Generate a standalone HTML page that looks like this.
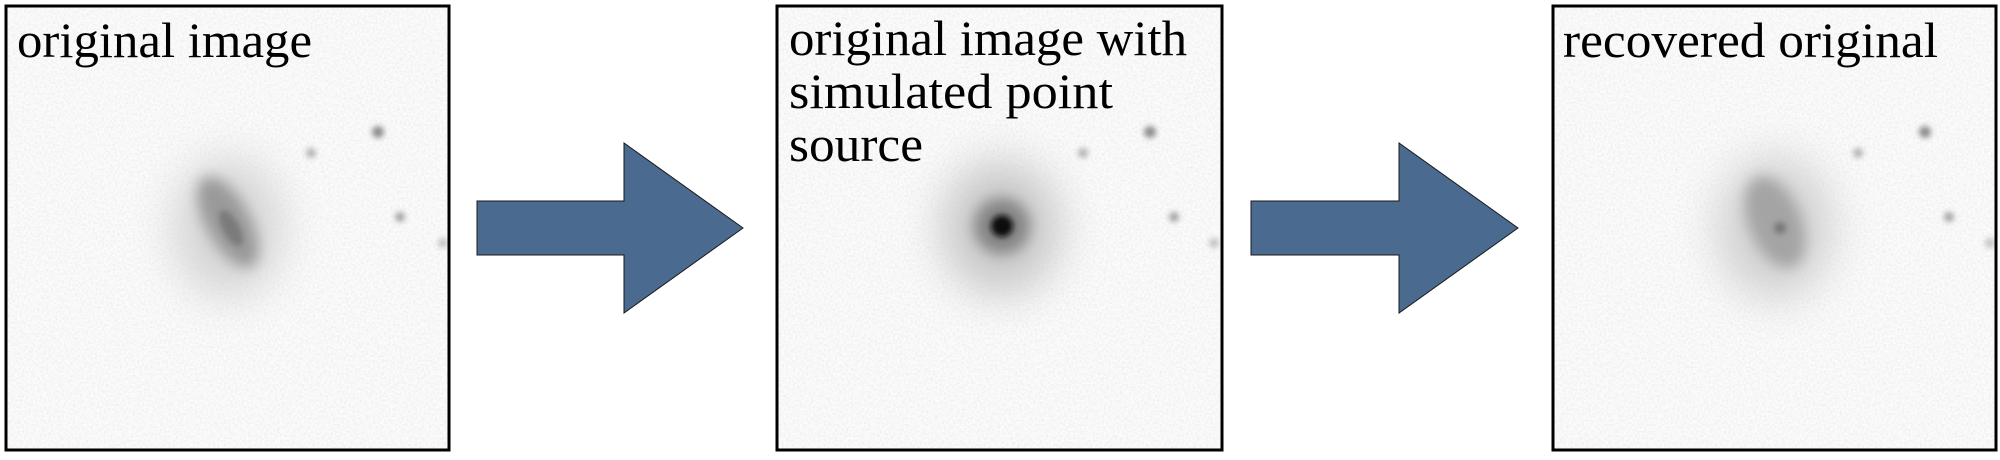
<!DOCTYPE html>
<html><head><meta charset="utf-8"><style>
html,body{margin:0;padding:0;background:#fff;width:2000px;height:460px;overflow:hidden}
svg{display:block}
text{font-family:"Liberation Serif",serif;font-size:50px;fill:#000}
</style></head><body>
<svg width="2000" height="460" viewBox="0 0 2000 460">
<defs>
<filter id="noise" x="0" y="0" width="100%" height="100%">
<feTurbulence type="fractalNoise" baseFrequency="0.45" numOctaves="1" seed="3" result="t"/>
<feColorMatrix type="matrix" values="0 0 0 0 0.55  0 0 0 0 0.55  0 0 0 0 0.55  0 0 0 -1.6 1.0"/>
</filter>
<filter id="blur6" x="-200%" y="-200%" width="500%" height="500%"><feGaussianBlur stdDeviation="7"/></filter>
<filter id="blur18" x="-200%" y="-200%" width="500%" height="500%"><feGaussianBlur stdDeviation="22"/></filter>
<filter id="blur3" x="-200%" y="-200%" width="500%" height="500%"><feGaussianBlur stdDeviation="3"/></filter>
<clipPath id="c1"><rect x="6" y="6" width="443" height="444"/></clipPath>
<clipPath id="c2"><rect x="777" y="6" width="445" height="444"/></clipPath>
<clipPath id="c3"><rect x="1553" y="6" width="443" height="444"/></clipPath>
</defs>

<!-- panel 1 -->
<g clip-path="url(#c1)">
<rect x="6" y="6" width="443" height="444" fill="#fbfbfb"/>
<rect x="6" y="6" width="443" height="444" filter="url(#noise)" opacity="0.3"/>
<ellipse cx="228" cy="228" rx="55" ry="70" fill="#d4d4d4" filter="url(#blur18)"/>
<ellipse cx="228" cy="222" rx="22" ry="50" transform="rotate(-28 228 222)" fill="#9a9a9a" filter="url(#blur6)"/>
<ellipse cx="231" cy="228" rx="8" ry="20" transform="rotate(-28 231 228)" fill="#7a7a7a" filter="url(#blur3)"/>
<circle cx="378" cy="132" r="6" fill="#8c8c8c" filter="url(#blur3)"/>
<circle cx="311" cy="153" r="5" fill="#b0b0b0" filter="url(#blur3)"/>
<circle cx="400" cy="217" r="5" fill="#a0a0a0" filter="url(#blur3)"/>
<circle cx="443" cy="243" r="5" fill="#c0c0c0" filter="url(#blur3)"/>
</g>
<rect x="6" y="6" width="443" height="444" fill="none" stroke="#000" stroke-width="3"/>
<text x="17" y="57" textLength="295" lengthAdjust="spacingAndGlyphs">original image</text>

<!-- arrow 1 -->
<polygon points="477,201 624,201 624,143 743,228 624,313 624,255 477,255" fill="#4a6a90" stroke="#1a1a1a" stroke-width="1"/>

<!-- panel 2 -->
<g clip-path="url(#c2)">
<rect x="777" y="6" width="445" height="444" fill="#fbfbfb"/>
<rect x="777" y="6" width="445" height="444" filter="url(#noise)" opacity="0.3"/>
<ellipse cx="1001" cy="228" rx="60" ry="68" fill="#c8c8c8" filter="url(#blur18)"/>
<circle cx="1002" cy="226" r="28" fill="#858585" filter="url(#blur6)"/>
<circle cx="1002" cy="226" r="11" fill="#111" filter="url(#blur3)"/>
<circle cx="1150" cy="132" r="6" fill="#8c8c8c" filter="url(#blur3)"/>
<circle cx="1083" cy="153" r="5" fill="#b0b0b0" filter="url(#blur3)"/>
<circle cx="1174" cy="217" r="5" fill="#a0a0a0" filter="url(#blur3)"/>
<circle cx="1214" cy="243" r="5" fill="#c0c0c0" filter="url(#blur3)"/>
</g>
<rect x="777" y="6" width="445" height="444" fill="none" stroke="#000" stroke-width="3"/>
<text><tspan x="789" y="55" textLength="398" lengthAdjust="spacingAndGlyphs">original image with</tspan><tspan x="789" y="108" textLength="324" lengthAdjust="spacingAndGlyphs">simulated point</tspan><tspan x="789" y="161" textLength="134" lengthAdjust="spacingAndGlyphs">source</tspan></text>

<!-- arrow 2 -->
<polygon points="1251,201 1399,201 1399,143 1518,228 1399,313 1399,255 1251,255" fill="#4a6a90" stroke="#1a1a1a" stroke-width="1"/>

<!-- panel 3 -->
<g clip-path="url(#c3)">
<rect x="1553" y="6" width="443" height="444" fill="#fbfbfb"/>
<rect x="1553" y="6" width="443" height="444" filter="url(#noise)" opacity="0.3"/>
<ellipse cx="1775" cy="228" rx="58" ry="72" fill="#d0d0d0" filter="url(#blur18)"/>
<ellipse cx="1775" cy="222" rx="26" ry="48" transform="rotate(-22 1775 222)" fill="#a4a4a4" filter="url(#blur6)"/>
<circle cx="1780" cy="228" r="6" fill="#777" filter="url(#blur3)"/>
<circle cx="1925" cy="132" r="6" fill="#8c8c8c" filter="url(#blur3)"/>
<circle cx="1858" cy="153" r="5" fill="#b0b0b0" filter="url(#blur3)"/>
<circle cx="1949" cy="217" r="5" fill="#a0a0a0" filter="url(#blur3)"/>
<circle cx="1990" cy="243" r="5" fill="#c0c0c0" filter="url(#blur3)"/>
</g>
<rect x="1553" y="6" width="443" height="444" fill="none" stroke="#000" stroke-width="3"/>
<text x="1563" y="57" textLength="375" lengthAdjust="spacingAndGlyphs">recovered original</text>
</svg>
</body></html>
